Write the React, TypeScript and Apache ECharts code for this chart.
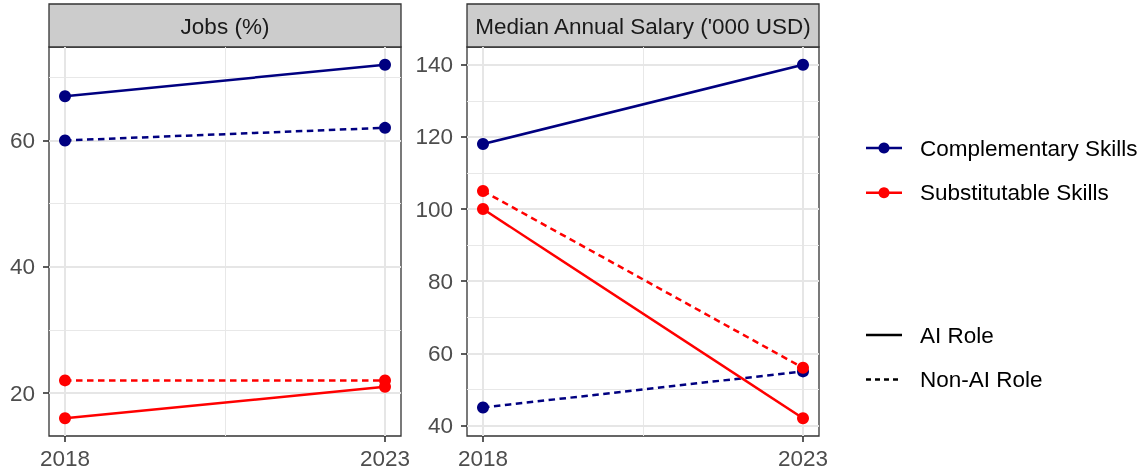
import React, { useEffect, useRef } from "react";
import * as echarts from "echarts";

const years = [2018, 2023];
const jobsCompAI = [67, 72];
const jobsCompNonAI = [60, 62];
const jobsSubAI = [16, 21];
const jobsSubNonAI = [22, 22];
const salCompAI = [118, 140];
const salCompNonAI = [45, 55];
const salSubAI = [100, 42];
const salSubNonAI = [105, 56];

const jobsTicks = [20, 40, 60];
const jobsMinor = [30, 50, 70];
const salTicks = [40, 60, 80, 100, 120, 140];
const salMinor = [50, 70, 90, 110, 130];
const xTicks = [2018, 2023];
const xMinor = [2020.5];

const panelTitles = ["Jobs (%)", "Median Annual Salary ('000 USD)"];
const colorNames = ["Complementary Skills", "Substitutable Skills"];
const roleNames = ["AI Role", "Non-AI Role"];

const NAVY = "#000080";
const RED = "#ff0000";
const FONT = "Liberation Sans, Arial, sans-serif";
const FS = 22.5;

function pts(vals: number[]) {
  return years.map((y, i) => [y, vals[i]]);
}

function lineSeries(idx: number, vals: number[], color: string, dashed: boolean) {
  return {
    type: "line",
    xAxisIndex: idx,
    yAxisIndex: idx,
    data: pts(vals),
    symbol: "circle",
    symbolSize: 12,
    z: 5,
    itemStyle: { color },
    lineStyle: { color, width: 2.5, type: dashed ? [6.5, 4.5] : "solid" },
    silent: true,
  };
}

function gridSeries(idx: number, yMajor: number[], yMinor: number[]) {
  const major = { color: "#e6e6e6", width: 2, type: "solid" };
  const minor = { color: "#e8e8e8", width: 1, type: "solid" };
  const data: any[] = [];
  yMinor.forEach((v) => data.push({ yAxis: v, lineStyle: minor }));
  xMinor.forEach((v) => data.push({ xAxis: v, lineStyle: minor }));
  yMajor.forEach((v) => data.push({ yAxis: v, lineStyle: major }));
  xTicks.forEach((v) => data.push({ xAxis: v, lineStyle: major }));
  return {
    type: "line",
    xAxisIndex: idx,
    yAxisIndex: idx,
    data: [],
    z: 1,
    silent: true,
    markLine: {
      silent: true,
      symbol: ["none", "none"],
      label: { show: false },
      emphasis: { disabled: true },
      data,
      z: 1,
    },
  };
}

export default function App() {
  const ref = useRef<HTMLDivElement>(null);
  useEffect(() => {
    if (!ref.current) return;
    const chart = echarts.init(ref.current, null, { renderer: "svg" });
    const grids = [
      { left: 49, top: 47, width: 352, height: 389 },
      { left: 467, top: 47, width: 352, height: 389 },
    ];
    const yRanges = [
      [13.2, 74.8],
      [37.1, 144.9],
    ];
    const yTickSets = [jobsTicks, salTicks];
    const axisLabelStyle = { color: "#4d4d4d", fontSize: FS, fontFamily: FONT };
    const option: any = {
      animation: false,
      textStyle: { fontFamily: FONT },
      grid: grids.map((g) => ({
        ...g,
        show: true,
        borderColor: "#333333",
        borderWidth: 1.3,
        backgroundColor: "#ffffff",
      })),
      xAxis: grids.map((_, i) => ({
        type: "value",
        gridIndex: i,
        min: 2017.75,
        max: 2023.25,
        axisLine: { show: false },
        splitLine: { show: false },
        axisTick: {
          show: true,
          customValues: xTicks,
          length: 6,
          lineStyle: { color: "#333333", width: 1.6 },
        },
        axisLabel: {
          ...axisLabelStyle,
          customValues: xTicks,
          margin: 11,
          formatter: (v: number) => String(v),
        },
      })),
      yAxis: grids.map((_, i) => ({
        type: "value",
        gridIndex: i,
        min: yRanges[i][0],
        max: yRanges[i][1],
        axisLine: { show: false },
        splitLine: { show: false },
        axisTick: {
          show: true,
          customValues: yTickSets[i],
          length: 6,
          lineStyle: { color: "#333333", width: 1.6 },
        },
        axisLabel: {
          ...axisLabelStyle,
          customValues: yTickSets[i],
          margin: 14,
          formatter: (v: number) => String(v),
        },
      })),
      series: [
        gridSeries(0, jobsTicks, jobsMinor),
        gridSeries(1, salTicks, salMinor),
        lineSeries(0, jobsCompAI, NAVY, false),
        lineSeries(0, jobsCompNonAI, NAVY, true),
        lineSeries(0, jobsSubAI, RED, false),
        lineSeries(0, jobsSubNonAI, RED, true),
        lineSeries(1, salCompAI, NAVY, false),
        lineSeries(1, salCompNonAI, NAVY, true),
        lineSeries(1, salSubAI, RED, false),
        lineSeries(1, salSubNonAI, RED, true),
      ],
      graphic: [
        ...grids.map((g, i) => ({
          type: "group",
          children: [
            {
              type: "rect",
              shape: { x: g.left, y: 4, width: g.width, height: 43 },
              style: { fill: "#cccccc", stroke: "#333333", lineWidth: 1.3 },
            },
            {
              type: "text",
              x: g.left + g.width / 2,
              y: 26,
              style: {
                text: panelTitles[i],
                fill: "#1a1a1a",
                fontSize: FS,
                fontFamily: FONT,
                align: "center",
                verticalAlign: "middle",
              },
            },
          ],
        })),
        ...colorNames.map((name, i) => {
          const y = 148 + i * 44.7;
          const c = i === 0 ? NAVY : RED;
          return {
            type: "group",
            children: [
              {
                type: "line",
                shape: { x1: 866, y1: y, x2: 902, y2: y },
                style: { stroke: c, lineWidth: 2.5 },
              },
              {
                type: "circle",
                shape: { cx: 884, cy: y, r: 5.5 },
                style: { fill: c },
              },
              {
                type: "text",
                x: 920,
                y,
                style: {
                  text: name,
                  fill: "#000000",
                  fontSize: FS,
                  fontFamily: FONT,
                  verticalAlign: "middle",
                },
              },
            ],
          };
        }),
        ...roleNames.map((name, i) => {
          const y = 335 + i * 44.5;
          return {
            type: "group",
            children: [
              {
                type: "line",
                shape: { x1: 866, y1: y, x2: 902, y2: y },
                style: {
                  stroke: "#000000",
                  lineWidth: 2.5,
                  lineDash: i === 1 ? [5, 4] : null,
                },
              },
              {
                type: "text",
                x: 920,
                y,
                style: {
                  text: name,
                  fill: "#000000",
                  fontSize: FS,
                  fontFamily: FONT,
                  verticalAlign: "middle",
                },
              },
            ],
          };
        }),
      ],
    };
    chart.setOption(option);
    return () => chart.dispose();
  }, []);
  return (
    <div
      ref={ref}
      style={{ position: "fixed", left: 0, top: 0, width: 1145, height: 474 }}
    />
  );
}
